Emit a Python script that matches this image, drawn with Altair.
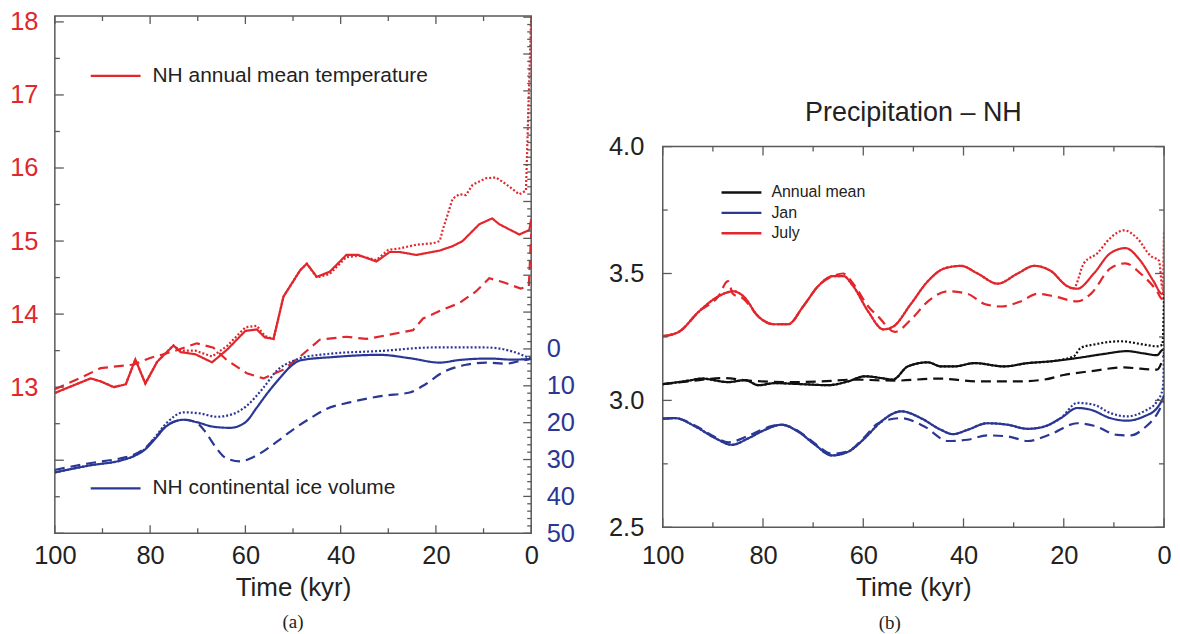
import altair as alt
import pandas as pd

RED = "#e1262c"
BLUE = "#2b3794"
BLACK = "#111111"
FRAME = "#5a5a5a"
TXT = "#222222"
FONT = "Liberation Sans"

# ---------------- panel (a): NH annual mean temperature ----------------
temp_solid_t = [100, 97.4, 92.5, 90.4, 87.6, 85.1, 83.1, 81, 78.5, 75.1, 73.6, 70.5, 67, 63.9, 60, 57.6, 55.9, 54.1, 52, 48.5,
                47.1, 45, 42.3, 38.8, 36.3, 32.5, 29.7, 27.6, 24.1, 19.2, 16.5, 14.4, 10.9, 8.2, 6.7, 2.5, 0.4, 0]
temp_solid_v = [12.92, 12.99, 13.12, 13.08, 13.0, 13.04, 13.38, 13.05, 13.35, 13.57, 13.48, 13.45, 13.34, 13.51, 13.77, 13.79,
                13.68, 13.66, 14.24, 14.6, 14.69, 14.51, 14.58, 14.81, 14.81, 14.72, 14.85, 14.85, 14.81, 14.87, 14.93, 15.0,
                15.23, 15.31, 15.23, 15.09, 15.15, 15.3]
temp_dotted_t = [100, 97.4, 92.5, 90.4, 87.6, 85.1, 83.1, 81, 78.5, 75.1, 73.6, 70.5, 67, 63.9, 60, 57.6, 55.9, 54.1, 52, 48.5,
                 47.1, 45, 42.3, 38.8, 36.3, 32.5, 30, 27.6, 24.1, 20.6, 19.2, 18.5, 17.6, 16.5, 15.1, 13.7, 12.3, 9.5, 7.4,
                 5.3, 2.5, 1.1, 0]
temp_dotted_v = [12.92, 12.99, 13.12, 13.08, 13.0, 13.04, 13.38, 13.05, 13.35, 13.57, 13.5, 13.5, 13.42, 13.56, 13.82, 13.84,
                 13.7, 13.66, 14.24, 14.6, 14.69, 14.5, 14.55, 14.78, 14.8, 14.74, 14.88, 14.9, 14.95, 14.97, 15.0, 15.17,
                 15.35, 15.58, 15.64, 15.63, 15.77, 15.86, 15.87, 15.78, 15.64, 15.69, 18.1]
temp_dashed_t = [100, 93.9, 90.4, 83.4, 80, 75.1, 70.2, 66.7, 63.9, 59.7, 56.2, 52, 48.5, 44.4, 38.8, 34.6, 30.4, 24.8, 22.7,
                 18.6, 15.1, 11.6, 8.8, 6.0, 2.2, 0.5, 0]
temp_dashed_v = [12.97, 13.15, 13.26, 13.31, 13.4, 13.49, 13.6, 13.54, 13.37, 13.19, 13.12, 13.24, 13.42, 13.65, 13.69, 13.66,
                 13.71, 13.78, 13.94, 14.06, 14.15, 14.31, 14.49, 14.44, 14.35, 14.38, 15.1]

# ---------------- panel (a): NH continental ice volume ----------------
ice_solid_t = [100, 92.7, 86, 83.3, 81, 79.3, 76.4, 72.9, 70.1, 66.7, 63.2, 60, 57.6, 55.5, 52.7, 49.9, 48.5, 41.6, 31.8,
               25.5, 19.2, 15.1, 8.8, 3.9, 0]
ice_solid_v = [33.5, 31.6, 30.2, 29.0, 27.2, 24.9, 20.8, 19.2, 19.9, 21.1, 21.4, 19.9, 15.9, 12.2, 7.8, 4.1, 3.1, 2.2, 1.6,
               2.5, 3.7, 3.0, 2.6, 2.9, 2.7]
ice_dotted_t = [100, 92.7, 86, 83.3, 81, 79.3, 76.4, 72.9, 69.5, 66, 62.5, 59.7, 56.2, 53.4, 49.9, 48.5, 43, 31.1, 20.6,
                9.5, 3.9, 0]
ice_dotted_v = [33.5, 31.6, 30.2, 29.0, 27.0, 24.5, 19.9, 17.2, 17.5, 18.4, 17.6, 15.4, 10.5, 5.9, 3.2, 2.5, 1.4, 0.5, -0.4,
                -0.4, 0.7, 2.7]
ice_dashed_t = [100, 92.7, 86, 83.3, 81, 79.3, 76.4, 72.9, 70.5, 68.4, 66.3, 64.2, 61.1, 58.6, 55.9, 52.7, 49.6, 46, 43,
                38.1, 31.1, 25.5, 22.7, 18.6, 13.7, 9.5, 5.3, 1.8, 0]
ice_dashed_v = [32.8, 31.0, 29.6, 28.6, 26.8, 24.6, 20.6, 19.2, 19.8, 22.5, 26.5, 29.5, 30.5, 29.5, 27.5, 24.5, 21.5, 18.5,
                16.3, 14.5, 12.7, 11.8, 10.0, 6.4, 4.3, 3.7, 4.0, 3.1, 2.7]

# ---------------- panel (b): Precipitation - NH ----------------
july_solid_t = [100, 96.8, 92.8, 88.9, 85.9, 83.9, 80.9, 77.9, 75, 72, 69, 66, 64, 62, 59, 56, 54.1, 50.5, 47.1, 43.8, 40.5,
                37.2, 33.2, 29.2, 25.9, 22.6, 19.3, 17.3, 14, 10.7, 7.7, 4.7, 2.1, 0.4, 0]
july_solid_v = [3.253, 3.27, 3.35, 3.41, 3.43, 3.41, 3.33, 3.30, 3.30, 3.37, 3.45, 3.49, 3.49, 3.45, 3.35, 3.28, 3.29, 3.38,
                3.47, 3.52, 3.53, 3.50, 3.46, 3.50, 3.53, 3.51, 3.45, 3.44, 3.50, 3.58, 3.60, 3.55, 3.47, 3.42, 3.43]
july_dotted_t = [100, 96.8, 92.8, 88.9, 85.9, 83.9, 80.9, 77.9, 75, 72, 69, 66, 64, 62, 59, 56, 54.1, 50.5, 47.1, 43.8, 40.5,
                 37.2, 33.2, 29.2, 25.9, 22.6, 19.3, 18.1, 16, 13.3, 10.7, 8, 5.4, 2.7, 1.0, 0.3, 0]
july_dotted_v = [3.253, 3.27, 3.35, 3.41, 3.43, 3.41, 3.33, 3.30, 3.30, 3.37, 3.45, 3.49, 3.49, 3.45, 3.35, 3.28, 3.29, 3.38,
                 3.47, 3.52, 3.53, 3.50, 3.46, 3.50, 3.53, 3.51, 3.45, 3.44, 3.54, 3.58, 3.64, 3.67, 3.64, 3.57, 3.55, 3.44,
                 3.67]
july_dashed_t = [100, 96.8, 92.8, 88.9, 87, 86, 83.9, 80.9, 77.9, 75, 72, 69, 66, 64, 62, 59, 57, 53.7, 50.4, 47.1, 43.1,
                 39.2, 35.8, 32.5, 28.6, 25.2, 21.9, 17.3, 14.6, 10.7, 7.7, 4.7, 1.4, 0.4, 0]
july_dashed_v = [3.253, 3.27, 3.35, 3.41, 3.47, 3.42, 3.40, 3.33, 3.30, 3.30, 3.37, 3.45, 3.49, 3.50, 3.46, 3.37, 3.33, 3.27,
                 3.32, 3.39, 3.43, 3.42, 3.38, 3.37, 3.39, 3.42, 3.41, 3.39, 3.42, 3.52, 3.54, 3.50, 3.43, 3.40, 3.45]

ann_solid_t = [100, 94.8, 92.2, 86.9, 83.6, 80.9, 77.6, 72.3, 67, 63, 59.7, 56.4, 54.1, 51.1, 47.1, 44.5, 41.8, 37.8, 31.9,
               27.2, 22.6, 17.3, 12, 7.4, 4, 1.4, 0.2, 0]
ann_solid_v = [3.064, 3.078, 3.086, 3.072, 3.08, 3.06, 3.068, 3.064, 3.06, 3.075, 3.095, 3.088, 3.082, 3.134, 3.15, 3.134,
               3.134, 3.147, 3.134, 3.147, 3.154, 3.167, 3.183, 3.194, 3.185, 3.178, 3.20, 3.20]
ann_dotted_t = [100, 94.8, 92.2, 86.9, 83.6, 80.9, 77.6, 72.3, 67, 63, 59.7, 56.4, 54.1, 51.1, 47.1, 44.5, 41.8, 37.8, 31.9,
                27.2, 22.6, 18, 16.6, 14, 8.7, 4, 1.4, 0.3, 0]
ann_dotted_v = [3.064, 3.078, 3.086, 3.072, 3.08, 3.06, 3.068, 3.064, 3.06, 3.075, 3.095, 3.088, 3.082, 3.134, 3.15, 3.134,
                3.134, 3.147, 3.134, 3.147, 3.154, 3.174, 3.207, 3.22, 3.233, 3.22, 3.213, 3.22, 3.42]
ann_dashed_t = [100, 94.8, 88.2, 82.9, 75, 68.3, 61.7, 56.4, 53.7, 45.1, 37.2, 29.2, 23.9, 20, 14.6, 8, 4.7, 1.4, 0]
ann_dashed_v = [3.064, 3.075, 3.088, 3.078, 3.072, 3.075, 3.082, 3.079, 3.078, 3.086, 3.075, 3.075, 3.082, 3.10, 3.115,
                3.13, 3.125, 3.121, 3.18]

jan_solid_t = [100, 97.5, 93.5, 89.5, 86.2, 82.9, 79.6, 76.3, 73, 69.6, 66.3, 63, 59.7, 56.4, 52.4, 48.5, 44.5, 42.1, 39.2,
               35.2, 31.2, 27.2, 23.9, 20.6, 17.3, 14.6, 10.7, 7.4, 4, 1.4, 0.2, 0]
jan_solid_v = [2.928, 2.93, 2.897, 2.851, 2.825, 2.851, 2.884, 2.904, 2.877, 2.825, 2.783, 2.798, 2.851, 2.917, 2.957, 2.93,
               2.884, 2.867, 2.884, 2.91, 2.904, 2.888, 2.897, 2.93, 2.97, 2.963, 2.93, 2.92, 2.937, 2.97, 3.01, 3.02]
jan_dotted_t = [100, 97.5, 93.5, 89.5, 86.2, 82.9, 79.6, 76.3, 73, 69.6, 66.3, 63, 59.7, 56.4, 52.4, 48.5, 44.5, 42.1, 39.2,
                35.2, 31.2, 27.2, 23.9, 20.6, 17.3, 14, 10.7, 7.4, 4, 1.4, 0.2, 0]
jan_dotted_v = [2.928, 2.93, 2.897, 2.851, 2.825, 2.851, 2.884, 2.904, 2.877, 2.825, 2.783, 2.798, 2.851, 2.917, 2.957, 2.93,
                2.884, 2.867, 2.884, 2.91, 2.904, 2.888, 2.897, 2.93, 2.99, 2.983, 2.95, 2.937, 2.957, 2.996, 3.05, 3.23]
jan_dashed_t = [100, 97.5, 93.5, 89.5, 86.9, 83, 79.6, 76.3, 73, 69.6, 66.3, 63, 60, 57, 52.4, 47.8, 43.1, 39.2, 35.2, 31.2,
                27.2, 22.6, 17.3, 14, 9.3, 6.7, 4, 1.4, 0]
jan_dashed_v = [2.928, 2.93, 2.90, 2.855, 2.835, 2.86, 2.89, 2.905, 2.88, 2.83, 2.79, 2.80, 2.85, 2.91, 2.93, 2.897, 2.84,
                2.845, 2.862, 2.858, 2.84, 2.867, 2.91, 2.90, 2.864, 2.862, 2.89, 2.946, 3.0]

# axis tick values and labels
x_label_values = [0, 20, 40, 60, 80, 100]
x_minor_ticks = [10, 30, 50, 70, 90]
temp_label_values = [13, 14, 15, 16, 17, 18]
temp_major_ticks = [11, 12, 13, 14, 15, 16, 17, 18]
temp_minor_ticks = [11.5, 12.5, 13.5, 14.5, 15.5, 16.5, 17.5]
ice_label_values = [0, 10, 20, 30, 40, 50]
ice_major_ticks = list(range(-90, 51, 10))
ice_minor_ticks = [v for v in range(-90, 51, 2) if v % 10 != 0]
prec_label_values = [2.5, 3.0, 3.5, 4.0]
prec_minor_ticks = [2.75, 3.25, 3.75]

legend_a_labels = ["NH annual mean temperature", "NH continental ice volume"]
legend_b_labels = ["Annual mean", "Jan", "July"]
styles = ["solid", "dotted", "dashed"]

WA, HA = 478, 519
WB, HB = 503, 382
LFS = 25.5


def long_df(pairs, field, series=None):
    frames = []
    for (ts, vs), st in zip(pairs, styles):
        d = pd.DataFrame({"t": ts, field: vs, "style": st})
        if series is not None:
            d["series"] = series
        frames.append(d)
    return pd.concat(frames, ignore_index=True)


temp_df = long_df([(temp_solid_t, temp_solid_v), (temp_dotted_t, temp_dotted_v), (temp_dashed_t, temp_dashed_v)], "T")
ice_df = long_df([(ice_solid_t, ice_solid_v), (ice_dotted_t, ice_dotted_v), (ice_dashed_t, ice_dashed_v)], "I")
prec_df = pd.concat([
    long_df([(ann_solid_t, ann_solid_v), (ann_dotted_t, ann_dotted_v), (ann_dashed_t, ann_dashed_v)], "P", legend_b_labels[0]),
    long_df([(jan_solid_t, jan_solid_v), (jan_dotted_t, jan_dotted_v), (jan_dashed_t, jan_dashed_v)], "P", legend_b_labels[1]),
    long_df([(july_solid_t, july_solid_v), (july_dotted_t, july_dotted_v), (july_dashed_t, july_dashed_v)], "P", legend_b_labels[2]),
], ignore_index=True)

dash_scale = alt.Scale(domain=styles, range=[[1, 0], [2, 2], [10, 6]])


def x_axis(pad):
    return alt.Axis(values=x_label_values, format="d", title="Time (kyr)", labelFontSize=LFS, labelPadding=pad,
                    titleFontSize=26, titlePadding=6, titleFontWeight="normal", labelColor=TXT, titleColor=TXT,
                    ticks=False, domain=False, grid=False, labelFlush=False, labelOverlap=False)


xa_enc = alt.X("t:Q", scale=alt.Scale(domain=[0, 100], reverse=True, nice=False), axis=x_axis(10))
xb_enc = alt.X("t:Q", scale=alt.Scale(domain=[0, 100], reverse=True, nice=False), axis=x_axis(16))
temp_enc = alt.Y("T:Q", scale=alt.Scale(domain=[11, 18.08], nice=False, zero=False),
                 axis=alt.Axis(values=temp_label_values, orient="left", labelColor=RED, labelFontSize=LFS, labelPadding=17,
                               title=None, ticks=False, domain=False, grid=False, labelOverlap=False))
ice_enc = alt.Y("I:Q", scale=alt.Scale(domain=[-90.3, 50], reverse=True, nice=False, zero=False),
                axis=alt.Axis(values=ice_label_values, orient="right", labelColor=BLUE, labelFontSize=LFS, labelPadding=15,
                              title=None, ticks=False, domain=False, grid=False, labelOverlap=False))
prec_enc = alt.Y("P:Q", scale=alt.Scale(domain=[2.5, 4.0], nice=False, zero=False),
                 axis=alt.Axis(values=prec_label_values, format=".1f", orient="left", labelColor=TXT, labelFontSize=LFS,
                               labelPadding=19, title=None, ticks=False, domain=False, grid=False, labelOverlap=False))


def xticks(vals, enc, H, L):
    df = pd.DataFrame({"t": vals})
    base = alt.Chart(df).mark_rule(color=FRAME, strokeWidth=1.3)
    return [base.encode(x=enc, y=alt.value(H), y2=alt.value(H - L)),
            base.encode(x=enc, y=alt.value(0), y2=alt.value(L))]


def yticks(vals, field, enc, x0, L):
    df = pd.DataFrame({field: vals})
    return alt.Chart(df).mark_rule(color=FRAME, strokeWidth=1.3).encode(y=enc, x=alt.value(x0), x2=alt.value(x0 + L))


def legend_item(label, color, x0, x1, xt, y, fs):
    df = pd.DataFrame({"label": [label]})
    line = alt.Chart(df).mark_rule(color=color, strokeWidth=2.4).encode(x=alt.value(x0), x2=alt.value(x1), y=alt.value(y))
    text = alt.Chart(df).mark_text(align="left", baseline="middle", font=FONT, fontSize=fs, color=TXT).encode(
        x=alt.value(xt), y=alt.value(y), text="label:N")
    return [line, text]


# ---------- panel (a) ----------
temp_lines = alt.Chart(temp_df).mark_line(color=RED, strokeWidth=2.2, clip=True).encode(
    x=xa_enc, y=temp_enc, strokeDash=alt.StrokeDash("style:N", scale=dash_scale, legend=None))
ice_lines = alt.Chart(ice_df).mark_line(color=BLUE, strokeWidth=2.2, clip=True, interpolate="monotone").encode(
    x=xa_enc, y=ice_enc, strokeDash=alt.StrokeDash("style:N", scale=dash_scale, legend=None))

temp_group = alt.layer(
    temp_lines,
    *xticks(x_label_values, xa_enc, HA, 8),
    *xticks(x_minor_ticks, xa_enc, HA, 5),
    yticks(temp_major_ticks, "T", temp_enc, 0, 9),
    yticks(temp_minor_ticks, "T", temp_enc, 0, 5),
    *legend_item(legend_a_labels[0], RED, 36, 86, 98, 60, 21),
    *legend_item(legend_a_labels[1], BLUE, 36, 86, 98, 474, 21),
)
ice_group = alt.layer(
    ice_lines,
    yticks(ice_major_ticks, "I", ice_enc, WA, -8),
    yticks(ice_minor_ticks, "I", ice_enc, WA, -4),
)
panel_a = alt.layer(temp_group, ice_group).resolve_scale(y="independent").properties(
    width=WA, height=HA,
    title=alt.TitleParams("(a)", orient="bottom", anchor="middle", font="Liberation Serif", fontSize=19,
                          fontWeight="normal", color=TXT, offset=13))

# ---------- panel (b) ----------
prec_lines = alt.Chart(prec_df).mark_line(strokeWidth=2.2, clip=True, interpolate="monotone").encode(
    x=xb_enc, y=prec_enc,
    color=alt.Color("series:N", scale=alt.Scale(domain=legend_b_labels, range=[BLACK, BLUE, RED]), legend=None),
    strokeDash=alt.StrokeDash("style:N", scale=dash_scale, legend=None))

legend_b = []
for lab, col, yy in zip(legend_b_labels, [BLACK, BLUE, RED], [46, 66.5, 87]):
    legend_b += legend_item(lab, col, 59, 99, 109, yy, 16)

panel_b = alt.layer(
    prec_lines,
    *xticks(x_label_values, xb_enc, HB, 9),
    *xticks(x_minor_ticks, xb_enc, HB, 5),
    yticks(prec_label_values, "P", prec_enc, 0, 9),
    yticks(prec_minor_ticks, "P", prec_enc, 0, 5),
    yticks(prec_label_values, "P", prec_enc, WB, -9),
    yticks(prec_minor_ticks, "P", prec_enc, WB, -5),
    *legend_b,
).properties(
    width=WB, height=HB,
    title=alt.TitleParams("Precipitation – NH", fontSize=27, fontWeight="normal", color=TXT, anchor="middle",
                          frame="group", offset=8))

spacer = alt.Chart(pd.DataFrame({"a": [0]})).mark_point(opacity=0).properties(
    width=WB, height=131, view=alt.ViewBackground(stroke="transparent"))

panel_b_col = alt.vconcat(spacer, panel_b, spacing=0, bounds="flush").properties(
    title=alt.TitleParams("(b)", orient="bottom", anchor="middle", font="Liberation Serif", fontSize=19,
                          fontWeight="normal", color=TXT, offset=13))

chart = alt.hconcat(panel_a, panel_b_col, spacing=132, bounds="flush").properties(padding=0).configure_axis(
    labelFont=FONT, titleFont=FONT).configure_view(stroke=FRAME, strokeWidth=1.5).configure_title(font=FONT)

chart.save("out.html", embed_options={"renderer": "svg", "actions": False})
